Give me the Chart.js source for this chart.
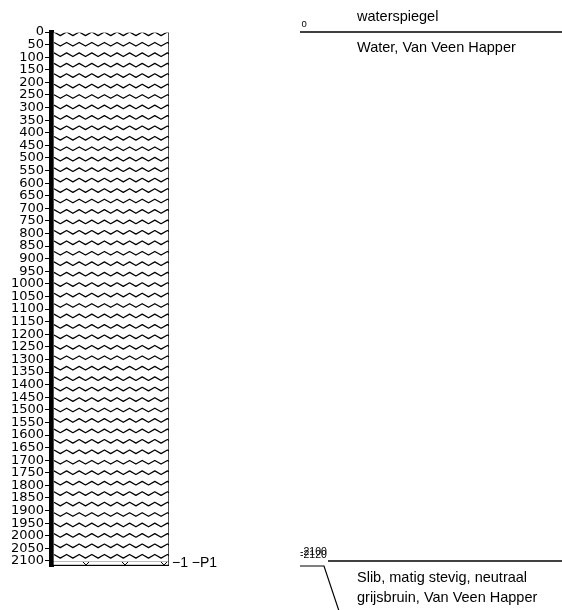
<!DOCTYPE html>
<html><head><meta charset="utf-8">
<script src="https://cdn.jsdelivr.net/npm/chart.js@4.4.1/dist/chart.umd.min.js"></script>
<style>html,body{margin:0;padding:0;background:#fff;}#wrap{position:relative;width:562px;height:610px;}</style>
</head><body><div id="wrap"><canvas id="c" width="562" height="610"></canvas></div>
<script>
// ---- data ----
const boreholeName = 'P1';
const depthTicks = [0,50,100,150,200,250,300,350,400,450,500,550,600,650,700,750,800,850,900,950,1000,1050,1100,1150,1200,1250,1300,1350,1400,1450,1500,1550,1600,1650,1700,1750,1800,1850,1900,1950,2000,2050,2100];
const layerNames = ['Water', 'Slib'];
const layerTops = [0, 2100];
const layerBottoms = [2100, 2120];
const layerDescriptions = [['Water, Van Veen Happer'], ['Slib, matig stevig, neutraal', 'grijsbruin, Van Veen Happer']];
const boundaryDepths = [0, 2100, 2120];
const boundaryLabels = ['0', '-2100', '-2120'];
const waterLevelDepth = 0;
const waterLevelLabel = 'waterspiegel';
const sampleIds = ['1'];
const sampleTops = [2100];
const sampleBottoms = [2120];
const depthMin = 0, depthMax = 2120;

const FONT = '"Liberation Sans", Arial, sans-serif';

function wavePattern(context) {
  const chart = context.chart, area = chart.chartArea;
  if (!area || !chart.scales.y) return '#fff';
  const y = chart.scales.y;
  const c = document.createElement('canvas');
  c.width = chart.width; c.height = chart.height;
  const g = c.getContext('2d');
  g.fillStyle = '#fff'; g.fillRect(0, 0, c.width, c.height);
  g.strokeStyle = '#000'; g.lineWidth = 1.25; g.lineJoin = 'round';
  const top = y.getPixelForValue(layerTops[0]), bot = y.getPixelForValue(layerBottoms[0]);
  const rowGap = 10.45, period = 12.6, amp = 1.8;
  for (let yc = top + 1.8; yc < bot - 3; yc += rowGap) {
    g.beginPath();
    let i = 0;
    for (let x = area.left + 3; x <= area.right + period; x += period / 2, i++) {
      const yy = yc + (i % 2 ? amp : -amp);
      if (i === 0) g.moveTo(x, yy); else g.lineTo(x, yy);
    }
    g.stroke();
  }
  return chart.ctx.createPattern(c, 'no-repeat');
}

function vPattern(context) {
  const chart = context.chart, area = chart.chartArea;
  if (!area || !chart.scales.y) return '#fff';
  const y = chart.scales.y;
  const c = document.createElement('canvas');
  c.width = chart.width; c.height = chart.height;
  const g = c.getContext('2d');
  g.fillStyle = '#fff'; g.fillRect(0, 0, c.width, c.height);
  const top = y.getPixelForValue(layerTops[1]), bot = y.getPixelForValue(layerBottoms[1]);
  g.strokeStyle = '#bbb'; g.lineWidth = 1;
  g.beginPath(); g.moveTo(area.left, top + 0.5); g.lineTo(area.right, top + 0.5); g.stroke();
  g.strokeStyle = '#000'; g.lineWidth = 1;
  for (let x = area.left + 35; x < area.right; x += 39) {
    g.beginPath(); g.moveTo(x - 3, top + 1); g.lineTo(x, bot - 1); g.lineTo(x + 3, top + 1); g.stroke();
  }
  return chart.ctx.createPattern(c, 'no-repeat');
}

const annot = {
  id: 'annot',
  afterDraw(chart) {
    const { ctx, chartArea: a, scales: { y } } = chart;
    const W = chart.width;
    ctx.save();
    ctx.fillStyle = '#000'; ctx.strokeStyle = '#000';
    // sample / borehole label
    const sy = y.getPixelForValue((sampleTops[0] + sampleBottoms[0]) / 2);
    ctx.font = '14px ' + FONT; ctx.textAlign = 'left'; ctx.textBaseline = 'middle';
    ctx.fillText('\u2212' + sampleIds[0] + ' \u2212' + boreholeName, a.right + 3, sy);

    const panelLeft = a.right + 131, descLeft = a.right + 188;
    // waterspiegel / top boundary
    const y0 = y.getPixelForValue(boundaryDepths[0]);
    ctx.lineWidth = 1.4;
    ctx.beginPath(); ctx.moveTo(panelLeft, y0); ctx.lineTo(W, y0); ctx.stroke();
    ctx.textBaseline = 'alphabetic';
    ctx.font = '9.5px ' + FONT;
    ctx.fillText(boundaryLabels[0], panelLeft + 1.5, y0 - 5);
    ctx.font = '14.5px ' + FONT;
    ctx.fillText(waterLevelLabel, descLeft, y.getPixelForValue(waterLevelDepth) - 11);
    ctx.fillText(layerDescriptions[0][0], descLeft, y0 + 20);

    // boundary 2100
    const y1 = y.getPixelForValue(boundaryDepths[1]);
    ctx.beginPath(); ctx.moveTo(panelLeft + 28, y1); ctx.lineTo(W, y1); ctx.stroke();
    ctx.font = '10.5px ' + FONT;
    ctx.fillText(boundaryLabels[1], panelLeft, y1 - 5.5);
    ctx.fillText(boundaryLabels[2], panelLeft, y1 - 2.5);
    // boundary 2120 with leader
    const y2 = y.getPixelForValue(boundaryDepths[2]);
    ctx.lineWidth = 1.2;
    ctx.beginPath(); ctx.moveTo(panelLeft, y2); ctx.lineTo(panelLeft + 24, y2);
    ctx.lineTo(panelLeft + 40, y2 + 48); ctx.stroke();
    ctx.font = '14.5px ' + FONT;
    ctx.fillText(layerDescriptions[1][0], descLeft, y2 + 16);
    ctx.fillText(layerDescriptions[1][1], descLeft, y2 + 36);
    ctx.restore();
  }
};

new Chart(document.getElementById('c'), {
  type: 'bar',
  data: {
    labels: [boreholeName],
    datasets: [
      { label: layerNames[0], data: [[layerTops[0], layerBottoms[0]]], backgroundColor: wavePattern,
        borderColor: '#000', borderWidth: { top: 0, right: 1, bottom: 0, left: 3 }, borderSkipped: false },
      { label: layerNames[1], data: [[layerTops[1], layerBottoms[1]]], backgroundColor: vPattern,
        borderColor: '#000', borderWidth: { top: 0, right: 1, bottom: 1.5, left: 3 }, borderSkipped: false }
    ]
  },
  options: {
    responsive: false, animation: false, devicePixelRatio: 1,
    grouped: false, barPercentage: 1, categoryPercentage: 1,
    layout: { padding: { left: 0, right: 393, top: 32, bottom: 44 } },
    plugins: { legend: { display: false }, tooltip: { enabled: false } },
    scales: {
      x: { display: false, offset: true },
      y: {
        reverse: true, min: depthMin, max: depthMax,
        afterBuildTicks: (ax) => { ax.ticks = depthTicks.map(v => ({ value: v })); },
        afterFit: (ax) => { ax.width = 51; },
        ticks: { autoSkip: false, color: '#000', padding: 1, callback: (v) => String(v),
                 font: { family: 'DejaVu Sans', size: 13 } },
        grid: { drawOnChartArea: false, drawTicks: true, tickLength: 6, color: '#000', tickWidth: 1 },
        border: { display: true, width: 5, color: '#000' }
      }
    }
  },
  plugins: [annot]
});
</script></body></html>
